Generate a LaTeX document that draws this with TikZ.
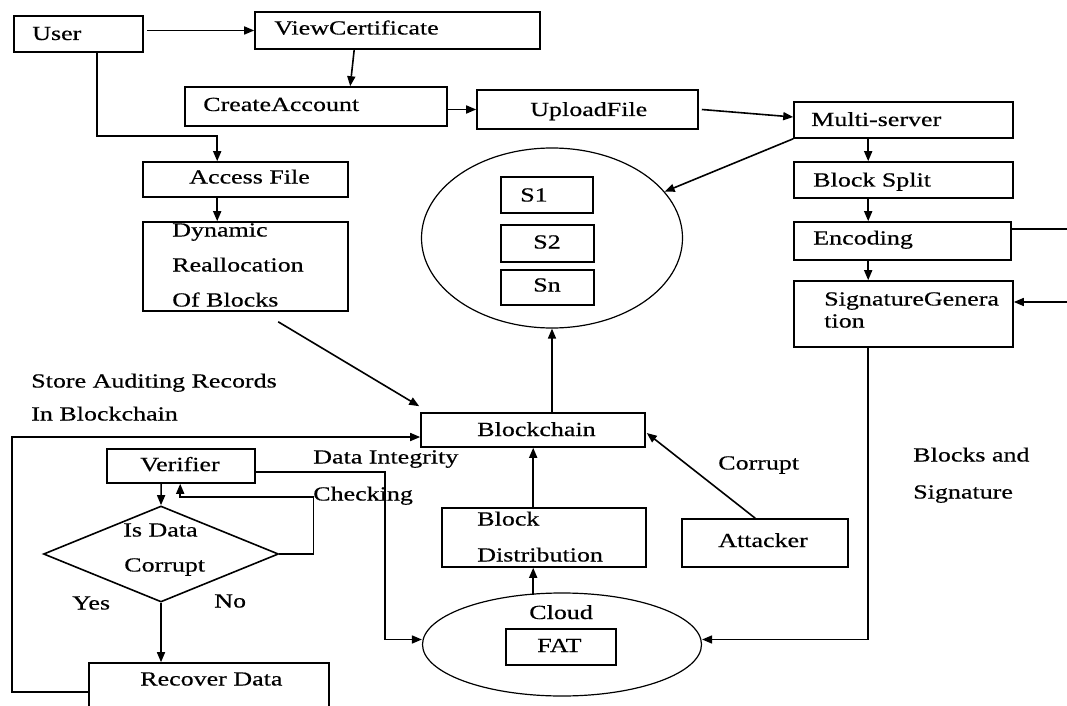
\documentclass[tikz,border=0pt]{standalone}
\usepackage{fontspec}
\setmainfont{Liberation Serif}[FakeStretch=1.3,FakeBold=0.5]
\usetikzlibrary{arrows.meta,shapes.geometric,calc}
\begin{document}
\begin{tikzpicture}[x=0.75pt,y=-0.75pt,
  bx/.style 2 args={draw, line width=1.2pt, minimum width=#1*0.75pt, minimum height=#2*0.75pt, inner sep=0pt},
  el/.style 2 args={draw, ellipse, line width=0.9pt, minimum width=#1*0.75pt, minimum height=#2*0.75pt, inner sep=0pt},
  tx/.style={inner sep=0pt, anchor=west, text height=9.75pt, text depth=0pt, font=\fontsize{15}{18}\selectfont},
  arr/.style={draw, line width=1.2pt, -{Triangle[length=7.5pt,width=6pt]}},
  ln/.style={draw, line width=1.2pt}]
\useasboundingbox (0,0) rectangle (1067,706);

% boxes
\node[bx={129}{36}] (user) at (78.5,34) {};
\node[bx={285}{37}] (viewcert) at (397.5,30.5) {};
\node[bx={262}{39}] (createacc) at (316,106.5) {};
\node[bx={221}{39}] (upload) at (587.5,109.5) {};
\node[bx={219}{36}] (multi) at (903.5,120) {};
\node[bx={219}{36}] (split) at (903.5,180) {};
\node[bx={217}{38}] (encoding) at (902.5,241) {};
\node[bx={219}{66}] (siggen) at (903.5,314) {};
\node[el={261}{180}] (storage) at (552,238) {};
\node[bx={92}{36}] (s1) at (547,195) {};
\node[bx={93}{37}] (s2) at (547.5,243.5) {};
\node[bx={93}{35}] (sn) at (547.5,287.5) {};
\node[bx={205}{35}] (access) at (245.5,179.5) {};
\node[bx={205}{89}] (dynamic) at (245.5,266.5) {};
\node[bx={224}{34}] (blockchain) at (533,430) {};
\node[bx={148}{34}] (verifier) at (181,466) {};
\node[draw, diamond, line width=1.2pt, inner sep=0pt, minimum width=176.25pt, minimum height=72pt] (decision) at (161,554) {};
\node[bx={240}{47}] (recover) at (209,686.5) {};
\node[bx={204}{59}] (blockdist) at (544,537.5) {};
\node[el={279}{103}] (cloud) at (562,644.5) {};
\node[bx={110}{36}] (fat) at (561,647) {};
\node[bx={166}{48}] (attacker) at (765,543) {};

% texts
\node[tx] (tuser) at (32,33.5) {User};
\node[tx] (tview) at (274,28) {ViewCertificate};
\node[tx] (tcreate) at (203,104.5) {CreateAccount};
\node[tx] (tupload) at (530,109.5) {UploadFile};
\node[tx] (tmulti) at (811,119.5) {Multi-server};
\node[tx] (taccess) at (189,177) {Access File};
\node[tx] (tsplit) at (813,180) {Block Split};
\node[tx] (tenc) at (813,238) {Encoding};
\node[tx] (tsig1) at (824,299) {SignatureGenera};
\node[tx] (tsig2) at (824,321) {tion};
\node[tx] (ts1) at (520,195) {S1};
\node[tx] (ts2) at (533,242) {S2};
\node[tx] (tsn) at (533,285) {Sn};
\node[tx] (tdyn1) at (172,230) {Dynamic};
\node[tx] (tdyn2) at (172,265) {Reallocation};
\node[tx] (tdyn3) at (172,300) {Of Blocks};
\node[tx] (tstore1) at (31,381) {Store Auditing Records};
\node[tx] (tstore2) at (31,414) {In Blockchain};
\node[tx] (tbc) at (477,429.5) {Blockchain};
\node[tx] (tver) at (140,464.5) {Verifier};
\node[tx] (tdi1) at (313,457) {Data Integrity};
\node[tx] (tdi2) at (313,494) {Checking};
\node[tx] (tis1) at (123,530) {Is Data};
\node[tx] (tis2) at (124,565) {Corrupt};
\node[tx] (tyes) at (72,603) {Yes};
\node[tx] (tno) at (214,601) {No};
\node[tx] (trec) at (140,679) {Recover Data};
\node[tx] (tbd1) at (477,519) {Block};
\node[tx] (tbd2) at (477,555) {Distribution};
\node[tx] (tcloud) at (529,612.5) {Cloud};
\node[tx] (tfat) at (537,645.5) {FAT};
\node[tx] (tatt) at (718,540.5) {Attacker};
\node[tx] (tcor) at (718,463) {Corrupt};
\node[tx] (tbs1) at (913,455) {Blocks and};
\node[tx] (tbs2) at (913,492) {Signature};

\coordinate (encout) at (1067,229);
\coordinate (sigin) at (1067,302);

% connectors
\draw[arr] ($(user.east |- viewcert.west)+(3,0)$) -- (viewcert.west);
\draw[arr] ($(viewcert.south west)+(100,0)$) -- ($(createacc.north west)+(166,0)$);
\draw[arr] (createacc.east |- upload.west) -- (upload.west);
\draw[arr] ($(upload.east)+(3,0)$) -- ($(multi.west)+(0,-3)$);
\draw[arr] (multi.south west) -- (storage);
\draw[arr] ($(multi.south west)+(75,0)$) -- ($(split.north west)+(75,0)$);
\draw[arr] ($(split.south west)+(75,0)$) -- ($(encoding.north west)+(75,0)$);
\draw[arr] ($(encoding.south west)+(75,0)$) -- ($(siggen.north west)+(75,0)$);
\draw[ln] (encout -| encoding.east) -- (encout);
\draw[arr] (sigin) -- (siggen.east |- sigin);
\draw[arr] ($(siggen.south west)+(75,0)$) |- ($(cloud.east)+(0,-5)$);
\draw[arr] ($(user.south west)+(84,0)$) |- ($(access.north west)+(75,-25)$) -- ($(access.north west)+(75,0)$);
\draw[arr] ($(access.south west)+(75,0)$) -- ($(dynamic.north west)+(75,0)$);
\draw[arr] ($(dynamic.south west)+(136,10)$) -- ($(blockchain.north west)+(-1,-6)$);
\draw[arr] (blockchain.north -| storage.south) -- (storage.south);
\draw[arr] ($(recover.north west)+(0,30)$) -- ++(-76,0) |- ($(blockchain.west)+(0,7)$);
\draw[arr] ($(verifier.south west)+(55,0)$) -- (decision.north);
\draw[arr] (decision.east) -- ++(34,0) |- ($(verifier.south west)+(74,13)$) -- ($(verifier.south west)+(74,0)$);
\draw[arr] (decision.south) -- (recover.north -| decision.south);
\draw[arr] ($(verifier.east)+(0,6)$) -| ($(cloud.west)+(-37,-5)$) -- ($(cloud.west)+(0,-5)$);
\draw[arr] ($(blockdist.south west)+(92,27)$) -- ($(blockdist.south west)+(92,0)$);
\draw[arr] ($(blockdist.north west)+(92,0)$) -- ($(blockchain.south west)+(113,0)$);
\draw[arr] ($(attacker.north west)+(74,0)$) -- ($(blockchain.east)+(1,3)$);
\end{tikzpicture}
\end{document}
